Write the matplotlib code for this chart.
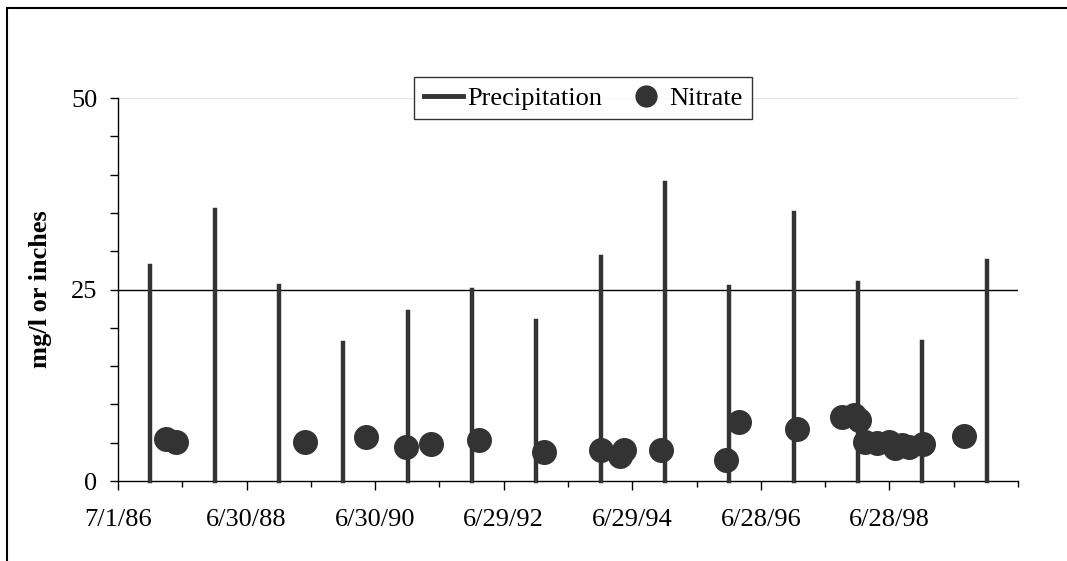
import matplotlib
matplotlib.use("Agg")
import matplotlib.pyplot as plt
import pandas as pd
from matplotlib.lines import Line2D
from matplotlib.patches import Rectangle

# annual precipitation (inches), one bar per year
precip_dates = ["1987-01-01", "1988-01-01", "1989-01-01", "1990-01-01", "1991-01-01",
                "1992-01-01", "1993-01-01", "1994-01-01", "1995-01-01", "1996-01-01",
                "1997-01-01", "1998-01-01", "1999-01-01", "2000-01-01"]
precip_vals = [28.1, 35.4, 25.4, 18.0, 22.0, 24.9, 20.9, 29.2, 38.9, 25.3, 35.0, 25.8, 18.2, 28.7]

# nitrate samples (mg/l)
nitrate_dates = ["1987-03-28", "1987-05-26", "1989-05-30", "1990-05-11", "1990-12-20",
                 "1991-05-12", "1992-02-08", "1993-02-15", "1994-01-02", "1994-04-20",
                 "1994-05-14", "1994-12-10", "1995-12-12", "1996-02-25", "1997-01-21",
                 "1997-10-03", "1997-12-08", "1998-01-05", "1998-02-12", "1998-04-19",
                 "1998-06-24", "1998-08-01", "1998-09-08", "1998-10-16", "1999-01-03",
                 "1999-08-24"]
nitrate_vals = [5.5, 5.05, 5.05, 5.7, 4.4, 4.8, 5.3, 3.75, 4.1, 3.2, 4.1, 4.1, 2.7, 7.75, 6.8,
                8.4, 8.6, 8.0, 5.1, 4.9, 5.1, 4.3, 4.7, 4.5, 4.8, 5.9]

x_start = pd.Timestamp("1986-07-01")
label_step_days = 730

plt.rcParams['font.family'] = ['Liberation Serif', 'DejaVu Serif']
dark = '#333333'
fsize = 19

fig = plt.figure(figsize=(10.67, 5.61), dpi=100)
ax = fig.add_axes([0.1106, 0.1426, 0.954 - 0.1106, 0.8253 - 0.1426])

pd_dates = pd.to_datetime(precip_dates)
nd_dates = pd.to_datetime(nitrate_dates)

ax.vlines(pd_dates, 0, precip_vals, color=dark, lw=3.2, capstyle='projecting',
          clip_on=False, zorder=3)
ax.plot(nd_dates, nitrate_vals, 'o', color=dark, ms=18, mec='none', zorder=4)

ax.axhline(25, color='black', lw=1, zorder=2)
ax.axhline(50, color='#e6e6e6', lw=1, zorder=1)

ax.set_ylim(0, 50)
ax.set_xlim(x_start, x_start + pd.Timedelta(days=label_step_days * 7))

major = [x_start + pd.Timedelta(days=label_step_days * i) for i in range(7)]
minor = [x_start + pd.Timedelta(days=365 * i) for i in range(15)]
ax.set_xticks(major)
ax.set_xticks(minor, minor=True)
ax.set_xticklabels([f"{d.month}/{d.day}/{d.strftime('%y')}" for d in major])
ax.set_yticks([0, 25, 50])
ax.set_yticks(range(0, 51, 5), minor=True)

for s in ['top', 'right']:
    ax.spines[s].set_visible(False)
ax.spines['left'].set_linewidth(1)
ax.spines['bottom'].set_linewidth(1)
ax.tick_params(axis='x', which='major', length=6.5, width=1, labelsize=fsize, pad=14)
ax.tick_params(axis='x', which='minor', length=4.5, width=1)
ax.tick_params(axis='y', which='major', length=5.5, width=1, labelsize=fsize, pad=9.5)
ax.tick_params(axis='y', which='minor', length=5.5, width=1)

ax.set_ylabel('mg/l or inches', fontsize=fsize, fontweight='bold', labelpad=13.5)

handles = [Line2D([], [], color=dark, lw=3.5),
           Line2D([], [], marker='o', ls='none', color=dark, ms=15)]
leg = ax.legend(handles, ['Precipitation', 'Nitrate'], ncol=2, loc='center',
                bbox_to_anchor=(0.517, 1.0), fontsize=fsize, frameon=True, fancybox=False,
                handlelength=1.5, handletextpad=0.15, columnspacing=0.9,
                borderpad=0.35, borderaxespad=0, edgecolor='black')
leg.get_frame().set_linewidth(1)
leg.set_zorder(5)

# outer chart border (only left and top are inside the picture)
fig.patches.append(Rectangle((7 / 1067, -0.2), 1.2, 1.2 - 8 / 561,
                             transform=fig.transFigure, fill=False,
                             edgecolor='black', lw=1.5))

fig.savefig('out.png', dpi=100)
